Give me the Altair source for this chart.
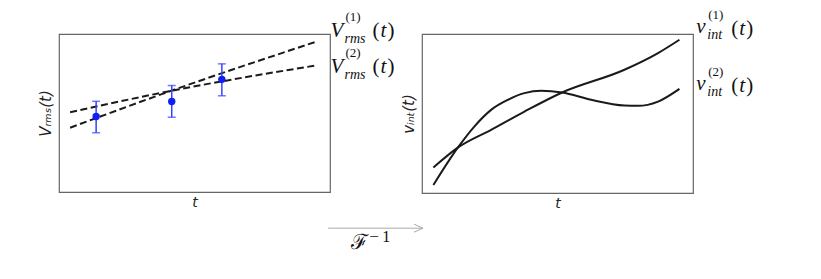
import altair as alt
import pandas as pd

# ---------------- data ----------------
# left panel: measured RMS values with error bars
obs_t = [1.37, 4.16, 6.01]
obs_v = [4.78, 5.73, 7.13]
obs_lo = [3.75, 4.73, 6.09]
obs_hi = [5.74, 6.74, 8.11]

# left panel: two dashed fits
fit_t = [0.41, 4.13, 9.52]
fit1_v = [4.07, 6.40, 9.53]
fit2_v = [5.05, 6.40, 8.02]

# right panel: two solid curves
int1_t = [0.42, 1.32, 2.55, 3.78, 5.17, 7.47, 8.71, 9.50]
int1_v = [1.60, 2.85, 3.97, 5.12, 6.32, 7.75, 8.80, 9.64]
int2_t = [0.42, 1.32, 1.93, 2.55, 3.17, 3.78, 4.40, 5.17, 6.24, 7.47, 7.97, 8.71, 9.50]
int2_v = [0.50, 2.85, 4.18, 5.23, 5.86, 6.28, 6.43, 6.32, 5.86, 5.50, 5.48, 5.75, 6.55]

# label anchors (data units of each panel)
rms_label_x = [10.02, 10.02]
rms_label_y = [9.83, 7.56]
rms_label_k = ["(1)", "(2)"]
int_label_x = [10.12, 10.12]
int_label_y = [10.05, 6.49]
int_label_k = ["(1)", "(2)"]
arrow_x = [9.93, 13.43]
arrow_y = [-2.29]
finv_x = [10.78]
finv_y = [-3.62]

SERIF = "Liberation Serif, DejaVu Serif, serif"
SANS = "DejaVu Sans"

fit_df = pd.DataFrame({
    "t": fit_t + fit_t,
    "v": fit1_v + fit2_v,
    "s": ["1"] * len(fit_t) + ["2"] * len(fit_t),
})
obs_df = pd.DataFrame({"t": obs_t, "v": obs_v, "lo": obs_lo, "hi": obs_hi})
int_df = pd.DataFrame({
    "t": int1_t + int2_t,
    "v": int1_v + int2_v,
    "s": ["1"] * len(int1_t) + ["2"] * len(int2_t),
})


def xenc(field="t"):
    return alt.X(f"{field}:Q", scale=alt.Scale(domain=[0, 10], nice=False, zero=False),
                 axis=alt.Axis(title="t", labels=False, ticks=False, domain=False, grid=False,
                               titleFont=SANS, titleFontSize=14, titleFontStyle="italic",
                               titleFontWeight="normal", titleColor="#222", titlePadding=3))


def yenc(title, field="v"):
    return alt.Y(f"{field}:Q", scale=alt.Scale(domain=[0, 10], nice=False, zero=False),
                 axis=alt.Axis(title=title, labels=False, ticks=False, domain=False, grid=False,
                               titleFont=SANS, titleFontSize=15, titleFontStyle="italic",
                               titleFontWeight="normal", titleColor="#222", titlePadding=6))


def text_parts(x, y, parts, font=SERIF):
    layers = []
    for txt, dx, dy, size, style in parts:
        layers.append(
            alt.Chart(pd.DataFrame({"a": [0]})).mark_text(
                text=txt, align="left", baseline="alphabetic", dx=dx, dy=dy,
                font=font, fontSize=size, fontStyle=style, color="#111"
            ).encode(x=alt.datum(x), y=alt.datum(y))
        )
    return layers


# ---------------- left panel ----------------
fits = alt.Chart(fit_df).mark_line(color="#1a1a1a", strokeWidth=2, strokeDash=[7, 3.5],
                                   interpolate="monotone").encode(
    x=xenc(), y=yenc("Vᵣₘₛ(t)"), detail="s:N")
bars = alt.Chart(obs_df).mark_rule(color="#3342ff", strokeWidth=1.5).encode(
    x="t:Q", y="lo:Q", y2="hi:Q")
caps_lo = alt.Chart(obs_df).mark_tick(color="#3342ff", orient="horizontal", size=8,
                                      thickness=1.5).encode(x="t:Q", y="lo:Q")
caps_hi = alt.Chart(obs_df).mark_tick(color="#3342ff", orient="horizontal", size=8,
                                      thickness=1.5).encode(x="t:Q", y="hi:Q")
pts = alt.Chart(obs_df).mark_circle(color="#1020f0", size=55, opacity=1).encode(
    x="t:Q", y="v:Q")

left_layers = [fits, bars, caps_lo, caps_hi, pts]
for lx, ly, k in zip(rms_label_x, rms_label_y, rms_label_k):
    left_layers += text_parts(lx, ly, [
        ("V", 0, 0, 21, "italic"),
        (k, 15, -16, 13, "normal"),
        ("rms", 14, 6, 14, "italic"),
        ("(", 42, 0, 21, "normal"),
        ("t", 50, 0, 21, "italic"),
        (")", 57, 0, 21, "normal"),
    ])

# arrow with F^-1
arrow = alt.Chart(pd.DataFrame({"a": [0]})).mark_rule(color="#aaaaaa", strokeWidth=1).encode(
    x=alt.datum(arrow_x[0]), x2=alt.datum(arrow_x[1]), y=alt.datum(arrow_y[0]))
head = alt.Chart(pd.DataFrame({"a": [0]})).mark_point(
    shape="M-2,-0.9L0,0L-2,0.9", size=81, filled=False, color="#aaaaaa", strokeWidth=1,
    opacity=1).encode(x=alt.datum(arrow_x[1]), y=alt.datum(arrow_y[0]))
left_layers += [arrow, head]
left_layers += text_parts(finv_x[0], finv_y[0], [
    ("ℱ", 0, 0, 21, "normal"),
    ("−", 18, -7, 17, "normal"),
    ("1", 31, -7, 16, "normal"),
])

left = alt.layer(*left_layers).properties(width=271, height=158)

# ---------------- right panel ----------------
curves = alt.Chart(int_df).mark_line(color="#1a1a1a", strokeWidth=2, interpolate="monotone").encode(
    x=xenc(), y=yenc("vᵢₙₜ(t)"), detail="s:N")
right_layers = [curves]
for lx, ly, k in zip(int_label_x, int_label_y, int_label_k):
    right_layers += text_parts(lx, ly, [
        ("v", 0, 0, 21, "italic"),
        (k, 12, -14, 13, "normal"),
        ("int", 11, 6, 14, "italic"),
        ("(", 35, 2, 21, "normal"),
        ("t", 43, 2, 21, "italic"),
        (")", 50, 2, 21, "normal"),
    ])
right = alt.layer(*right_layers).properties(width=271, height=159)

chart = alt.hconcat(left, right, spacing=92, bounds="flush").properties(
    padding={"left": 37, "top": 8, "right": 5, "bottom": 5}
).configure(background="white").configure_view(stroke="#666666", strokeWidth=1.2)

chart.save("out.html", embed_options={"renderer": "svg", "actions": False})
